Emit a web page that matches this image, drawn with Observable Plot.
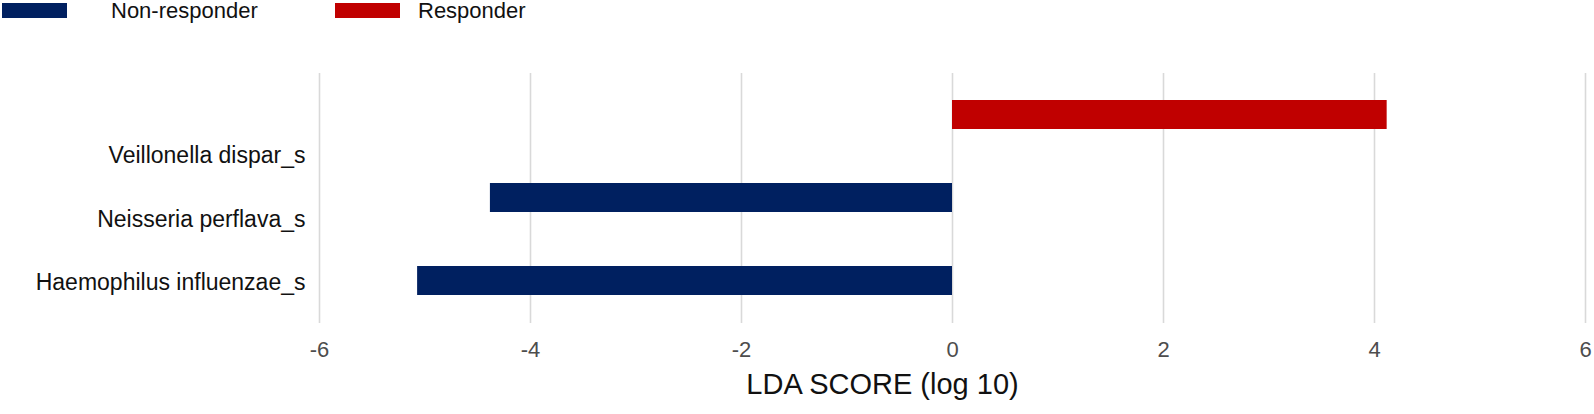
<!DOCTYPE html>
<html>
<head>
<meta charset="utf-8">
<script src="https://cdn.jsdelivr.net/npm/d3@7"></script>
<script src="https://cdn.jsdelivr.net/npm/@observablehq/plot@0.6"></script>
<style>
  html, body { margin: 0; padding: 0; background: #ffffff; }
  #wrap { position: relative; width: 1594px; height: 414px; font-family: "Liberation Sans", Arial, sans-serif; }
  #chart { position: absolute; left: 0; top: 0; }
  #legend { position: absolute; left: 0; top: 0; width: 1594px; height: 24px; z-index: 2; }
  .sw { position: absolute; top: 3px; width: 65px; height: 15px; }
  .lt { position: absolute; top: 0px; font-size: 22px; line-height: 22px; color: #111; white-space: nowrap; }
</style>
</head>
<body>
<div id="wrap">
  <div id="chart"></div>
  <div id="legend"></div>
</div>
<script>
// ---- data ----
const species = ["Veillonella dispar_s", "Neisseria perflava_s", "Haemophilus influenzae_s"];
const ldaScores = [4.12, -4.38, -5.07];
const groups = ["Responder", "Non-responder", "Non-responder"];
const legendGroups = ["Non-responder", "Responder"];
const groupColors = ["#002060", "#C00000"];
const xTicks = [-6, -4, -2, 0, 2, 4, 6];
const xLabel = "LDA SCORE (log 10)";

const table = species.map((s, i) => ({species: s, lda: ldaScores[i], group: groups[i]}));

// ---- legend (HTML, above the SVG) ----
const legend = document.getElementById("legend");
const swLeft = [2, 335], txtLeft = [111, 418];
legendGroups.forEach((g, i) => {
  const sw = document.createElement("div");
  sw.className = "sw";
  sw.style.left = swLeft[i] + "px";
  sw.style.background = groupColors[i];
  legend.appendChild(sw);
  const t = document.createElement("div");
  t.className = "lt";
  t.style.left = txtLeft[i] + "px";
  t.textContent = g;
  legend.appendChild(t);
});

// ---- chart ----
const labelShift = [41, 22, 2];
const chart = Plot.plot({
  width: 1594,
  height: 414,
  marginLeft: 319,
  marginRight: 9,
  marginTop: 73,
  marginBottom: 91,
  style: {fontFamily: "'Liberation Sans', Arial, sans-serif", fontSize: "22px", background: "#ffffff"},
  x: {domain: [-6, 6], axis: null},
  y: {domain: species, paddingInner: 0.65, paddingOuter: 0.325, axis: null},
  color: {domain: legendGroups, range: groupColors},
  marks: [
    Plot.gridX(xTicks, {stroke: "#d9d9d9", strokeOpacity: 1, strokeWidth: 1.6}),
    Plot.barX(table, {x: "lda", y: "species", fill: "group"}),
    Plot.axisX(xTicks, {tickSize: 0, tickPadding: 18, fill: "#4d4d4d", fontSize: 22, label: null, tickFormat: d => String(d)}),
    ...species.map((s, i) => Plot.text([s], {
      y: d => d, frameAnchor: "left", textAnchor: "end", dx: -14, dy: labelShift[i],
      fill: "#111111", fontSize: 23
    })),
    Plot.text([xLabel], {frameAnchor: "bottom", dy: 70, dx: -70, fontSize: 29, fill: "#111111"})
  ]
});
document.getElementById("chart").appendChild(chart);
</script>
</body>
</html>
